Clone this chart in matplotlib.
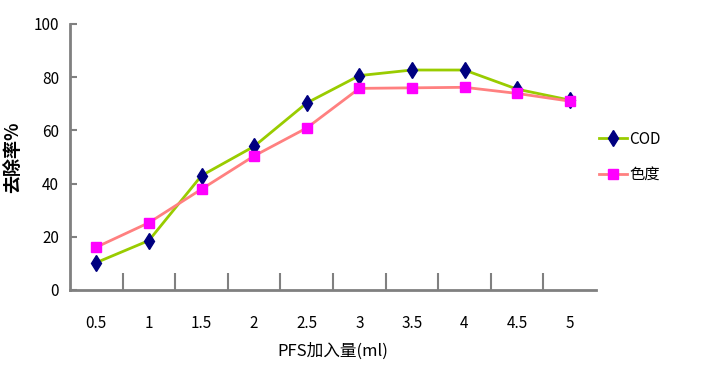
import matplotlib
matplotlib.use("Agg")
import matplotlib.pyplot as plt
from matplotlib.ticker import FixedLocator

plt.rcParams["font.family"] = ["Noto Sans CJK SC", "DejaVu Sans"]

doses = ["0.5", "1", "1.5", "2", "2.5", "3", "3.5", "4", "4.5", "5"]
cod = [10.3, 18.6, 43, 54, 70.3, 80.6, 82.7, 82.7, 75.5, 71.4]
chroma = [16.1, 25.3, 37.9, 50.4, 60.9, 75.8, 76, 76.2, 73.9, 71]

fig = plt.figure(figsize=(7.21, 3.76), dpi=100)
ax = fig.add_axes([70 / 721, 86 / 376, 526 / 721, 266 / 376])

x = range(len(doses))
ax.plot(x, cod, color="#99cc00", lw=2, marker="d", ms=8,
        mfc="#000080", mec="#000080", label="COD")
ax.plot(x, chroma, color="#ff8080", lw=2, marker="s", ms=7.5,
        mfc="#ff00ff", mec="#ff00ff", label="色度")

ax.set_xlim(-0.5, len(doses) - 0.5)
ax.set_ylim(0, 100)
ax.set_yticks(range(0, 101, 20))

# category axis: labels at centers, tick marks between categories
ax.set_xticks(list(x))
ax.set_xticklabels(doses, fontsize=11)
ax.xaxis.set_minor_locator(FixedLocator([i + 0.5 for i in range(len(doses) - 1)]))
ax.tick_params(axis="x", which="major", length=0, pad=18)
ax.tick_params(axis="x", which="minor", direction="in", length=12,
               width=1.5, color="#808080")
ax.tick_params(axis="y", direction="in", length=5, width=1.5,
               color="#808080", labelsize=11, pad=8)

for side in ("top", "right"):
    ax.spines[side].set_visible(False)
for side in ("left", "bottom"):
    ax.spines[side].set_color("#808080")
    ax.spines[side].set_linewidth(2)

ax.set_ylabel("去除率%", fontsize=13, fontweight="bold", labelpad=8)
ax.set_xlabel("PFS加入量(ml)", fontsize=12, labelpad=8)

ax.legend(loc="center left", bbox_to_anchor=(1.0, 0.5), frameon=False,
          fontsize=11, handlelength=1.8, handletextpad=0.2, borderaxespad=0.0,
          borderpad=0.2, labelspacing=1.2)

fig.savefig("out.png", dpi=100)
